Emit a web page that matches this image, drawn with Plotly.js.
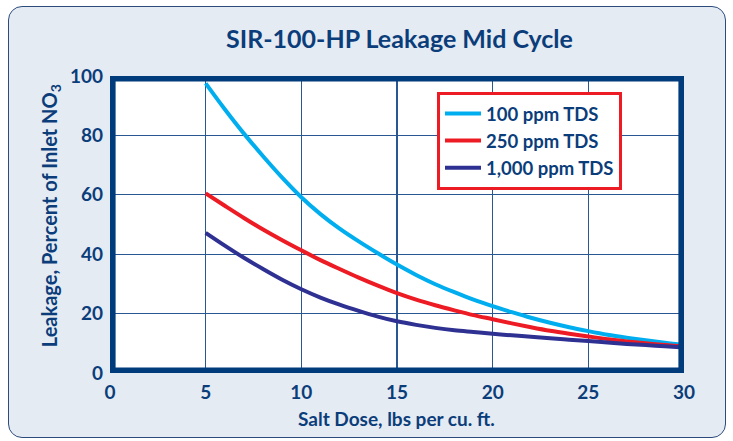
<!DOCTYPE html>
<html>
<head>
<meta charset="utf-8">
<script src="https://cdn.plot.ly/plotly-3.0.1.min.js"></script>
<style>
  html, body { margin:0; padding:0; background:#ffffff; width:733px; height:441px; overflow:hidden; }
  #bg { position:absolute; left:8px; top:6px; width:716px; height:430px; border:1.5px solid #2d4c7c; border-radius:14px; background:#E5EBF3; }
  #chart { position:absolute; left:0; top:0; width:733px; height:441px; }
</style>
</head>
<body>
<div id="bg"></div>
<div id="chart"></div>
<script>
const saltDose = [5,6,7,8,9,10,11,12,13,14,15,16,17,18,19,20,21,22,23,24,25,26,27,28,29,30];
const tds100  = [97.5,88.8,80.6,73,65.8,59.2,53.5,48.6,44.3,40.3,36.5,33,29.9,27.2,24.7,22.5,20.5,18.6,16.9,15.4,14.1,12.9,11.9,11,10.2,9.5];
const tds250  = [60.5,56.3,52.2,48.3,44.7,41.3,38,35,32.1,29.4,26.9,24.7,22.8,21.1,19.5,18.1,16.7,15.4,14.2,13.2,12.3,11.4,10.6,10,9.4,8.9];
const tds1000 = [47.2,42.9,38.8,35,31.4,28.2,25.4,23,20.9,19,17.4,16.2,15.2,14.4,13.8,13.2,12.7,12.2,11.7,11.2,10.8,10.3,9.8,9.4,9,8.6];
const seriesNames = ['100 ppm TDS','250 ppm TDS','1,000 ppm TDS'];
const seriesColors = ['#00AEEF','#ED1C24','#2E3192'];
const xTicks = [0,5,10,15,20,25,30];
const yTicks = [0,20,40,60,80,100];
const chartTitle = 'SIR-100-HP Leakage Mid Cycle';
const xTitle = 'Salt Dose, lbs per cu. ft.';
const yTitle = 'Leakage, Percent of Inlet NO<sub>3</sub>';

const navy = '#0B3D7A';
const font = 'Lato, "Open Sans", sans-serif';
const W = 733, H = 441;
const m = {l:110, r:49, t:76, b:68.4};
const pw = W - m.l - m.r, ph = H - m.t - m.b;
const inset = 2.8;

const traces = [tds100, tds250, tds1000].map((ys, i) => ({
  x: saltDose, y: ys, type: 'scatter', mode: 'lines',
  name: seriesNames[i],
  line: {color: seriesColors[i], width: 4, shape: 'spline', smoothing: 1}
}));

const layout = {
  width: W, height: H,
  margin: m,
  paper_bgcolor: 'rgba(0,0,0,0)',
  plot_bgcolor: '#ffffff',
  font: {family: font, color: navy},
  title: {text: chartTitle, x: 399.5/W, xanchor: 'center', y: 1 - 39/H, yanchor: 'middle',
          font: {family: font, size: 25, color: navy, weight: 'bold'}},
  xaxis: {range: [0,30], tickvals: xTicks, ticktext: xTicks.map(String), showgrid: true, gridcolor: '#2a5791', gridwidth: 1.2,
          zeroline: false, showline: false, ticks: '', ticklabelstandoff: 6,
          tickfont: {family: font, size: 19, color: navy, weight: 'bold'}},
  yaxis: {range: [0,100], tickvals: yTicks, ticktext: yTicks.map(String), showgrid: true, gridcolor: '#2a5791', gridwidth: 1.2,
          zeroline: false, showline: false, ticks: '', ticklabelstandoff: 6,
          tickfont: {family: font, size: 19, color: navy, weight: 'bold'}},
  annotations: [
    {text: xTitle, xref: 'paper', yref: 'paper', x: (396 - m.l)/pw, y: (H - m.b - 418)/ph, xanchor: 'center', yanchor: 'middle',
     showarrow: false, font: {family: font, size: 19, color: navy, weight: 'bold'}},
    {text: yTitle, xref: 'paper', yref: 'paper', x: (50 - m.l)/pw, y: (H - m.b - 216)/ph, xanchor: 'center', yanchor: 'middle',
     textangle: -90, showarrow: false, font: {family: font, size: 20, color: navy, weight: 'bold'}}
  ],
  legend: {x: (437 - m.l)/pw, y: (H - m.b - 92)/ph, xanchor: 'left', yanchor: 'top',
           bgcolor: '#ffffff', bordercolor: '#ED1C24', borderwidth: 3,
           font: {family: font, size: 18.5, color: navy, weight: 'bold'}, itemwidth: 36, tracegroupgap: 0,
           entrywidth: 160, entrywidthmode: 'pixels'},
  shapes: [{type: 'rect', xref: 'paper', yref: 'paper', layer: 'above',
            x0: inset/pw, x1: 1 - inset/pw, y0: inset/ph, y1: 1 - inset/ph,
            line: {color: '#003B7B', width: 5.6}}],
  showlegend: true
};

Plotly.newPlot('chart', traces, layout, {displayModeBar: false, staticPlot: true});
</script>
</body>
</html>
